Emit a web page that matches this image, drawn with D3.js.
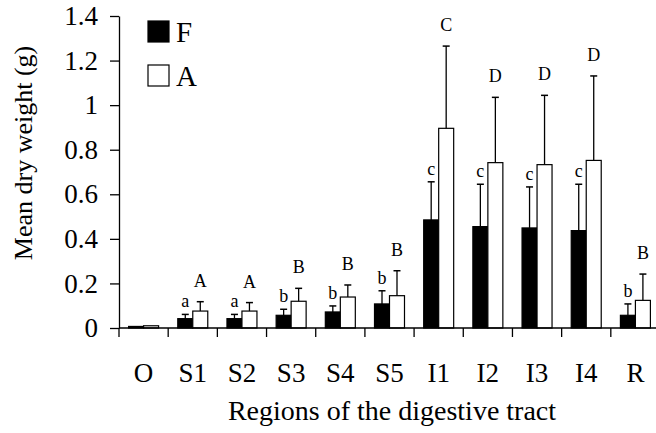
<!DOCTYPE html>
<html>
<head>
<meta charset="utf-8">
<script src="https://cdn.jsdelivr.net/npm/d3@7"></script>
<style>
  body { margin: 0; background: #fff; }
  svg { display: block; font-family: "Liberation Serif", "Times New Roman", serif; }
  .axis path, .axis line { stroke: #000; stroke-width: 1.3; }
  .axis text { fill: #000; font-family: "Liberation Serif", serif; }
</style>
</head>
<body>
<div id="chart"></div>
<script>
"use strict";

var WIDTH = 656;
var HEIGHT = 433;

// Data
var categories = ["O", "S1", "S2", "S3", "S4", "S5", "I1", "I2", "I3", "I4", "R"];
var seriesNames = ["F", "A"];
var fMeans = [0.007, 0.042, 0.042, 0.057, 0.072, 0.108, 0.485, 0.455, 0.449, 0.437, 0.057];
var fErrors = [0, 0.019, 0.019, 0.027, 0.027, 0.059, 0.171, 0.190, 0.184, 0.208, 0.051];
var aMeans = [0.010, 0.076, 0.076, 0.120, 0.139, 0.145, 0.896, 0.742, 0.733, 0.752, 0.124];
var aErrors = [0, 0.042, 0.038, 0.058, 0.054, 0.112, 0.369, 0.293, 0.311, 0.379, 0.118];
var fLetters = ["", "a", "a", "b", "b", "b", "c", "c", "c", "c", "b"];
var aLetters = ["", "A", "A", "B", "B", "B", "C", "D", "D", "D", "B"];
var yTicks = [0, 0.2, 0.4, 0.6, 0.8, 1, 1.2, 1.4];

var fills = { "F": "#000", "A": "#fff" };

// Build rows
var rows = [];
categories.forEach(function (c, i) {
    rows.push({ cat: c, series: "F", mean: fMeans[i], err: fErrors[i], letter: fLetters[i], gap: 7 });
    rows.push({ cat: c, series: "A", mean: aMeans[i], err: aErrors[i], letter: aLetters[i], gap: 15 });
});

var svg = d3.select("#chart").append("svg")
    .attr("width", WIDTH)
    .attr("height", HEIGHT);

var plotLeft = 119, plotRight = 660, plotTop = 16, plotBottom = 328;

var x = d3.scaleBand().domain(categories).range([plotLeft, plotRight]).paddingInner(0).paddingOuter(0);
var xs = d3.scaleBand().domain(seriesNames).range([0, x.bandwidth()]).paddingInner(0).paddingOuter(0.64);
var y = d3.scaleLinear().domain([0, 1.4]).range([plotBottom, plotTop]);

// Bars
svg.selectAll("rect.bar").data(rows).enter().append("rect")
    .attr("class", "bar")
    .attr("x", function (d) { return x(d.cat) + xs(d.series); })
    .attr("y", function (d) { return y(d.mean); })
    .attr("width", xs.bandwidth())
    .attr("height", function (d) { return y(0) - y(d.mean); })
    .attr("fill", function (d) { return fills[d.series]; })
    .attr("stroke", "#000")
    .attr("stroke-width", 1.2);

// Error bars (upper only)
var errRows = rows.filter(function (d) { return d.err > 0; });
function cx(d) { return x(d.cat) + xs(d.series) + xs.bandwidth() / 2; }

svg.selectAll("line.err").data(errRows).enter().append("line")
    .attr("class", "err")
    .attr("x1", cx).attr("x2", cx)
    .attr("y1", function (d) { return y(d.mean); })
    .attr("y2", function (d) { return y(d.mean + d.err); })
    .attr("stroke", "#000").attr("stroke-width", 1.3);

svg.selectAll("line.cap").data(errRows).enter().append("line")
    .attr("class", "cap")
    .attr("x1", function (d) { return cx(d) - 3.5; })
    .attr("x2", function (d) { return cx(d) + 3.5; })
    .attr("y1", function (d) { return y(d.mean + d.err); })
    .attr("y2", function (d) { return y(d.mean + d.err); })
    .attr("stroke", "#000").attr("stroke-width", 1.5);

// Significance letters
svg.selectAll("text.sig").data(rows.filter(function (d) { return d.letter; })).enter().append("text")
    .attr("class", "sig")
    .attr("x", cx)
    .attr("y", function (d) { return y(d.mean + d.err) - d.gap; })
    .attr("text-anchor", "middle")
    .style("font-size", "18px")
    .text(function (d) { return d.letter; });

// Y axis
var yAxis = d3.axisLeft(y)
    .tickValues(yTicks)
    .tickSize(9)
    .tickSizeOuter(0)
    .tickPadding(12)
    .tickFormat(function (d) { return String(+d.toFixed(1)); });

svg.append("g")
    .attr("class", "axis")
    .attr("transform", "translate(" + plotLeft + ",0)")
    .call(yAxis)
    .selectAll("text")
    .style("font-size", "27px");

// X axis: baseline, boundary ticks, category labels
var xAxis = svg.append("g").attr("class", "axis");
xAxis.append("line")
    .attr("x1", plotLeft).attr("x2", plotRight)
    .attr("y1", y(0)).attr("y2", y(0));
xAxis.selectAll("line.tick").data(categories).enter().append("line")
    .attr("class", "tick")
    .attr("x1", function (d) { return x(d); })
    .attr("x2", function (d) { return x(d); })
    .attr("y1", y(0)).attr("y2", y(0) + 9);
xAxis.selectAll("text").data(categories).enter().append("text")
    .attr("x", function (d) { return x(d) + x.bandwidth() / 2; })
    .attr("y", 382)
    .attr("text-anchor", "middle")
    .style("font-size", "27px")
    .text(function (d) { return d; });

// Axis titles
svg.append("text")
    .attr("x", 392)
    .attr("y", 420)
    .attr("text-anchor", "middle")
    .style("font-size", "28px")
    .text("Regions of the digestive tract");

svg.append("text")
    .attr("transform", "translate(32,153) rotate(-90)")
    .attr("text-anchor", "middle")
    .style("font-size", "26px")
    .text("Mean dry weight (g)");

// Legend
var legend = svg.selectAll("g.legend").data(seriesNames).enter().append("g")
    .attr("class", "legend")
    .attr("transform", function (d, i) { return "translate(148," + (21 + i * 44) + ")"; });
legend.append("rect")
    .attr("width", 21).attr("height", 21)
    .attr("fill", function (d) { return fills[d]; })
    .attr("stroke", "#000").attr("stroke-width", 1.2);
legend.append("text")
    .attr("x", 28).attr("y", 21)
    .style("font-size", "29px")
    .text(function (d) { return d; });
</script>
</body>
</html>
